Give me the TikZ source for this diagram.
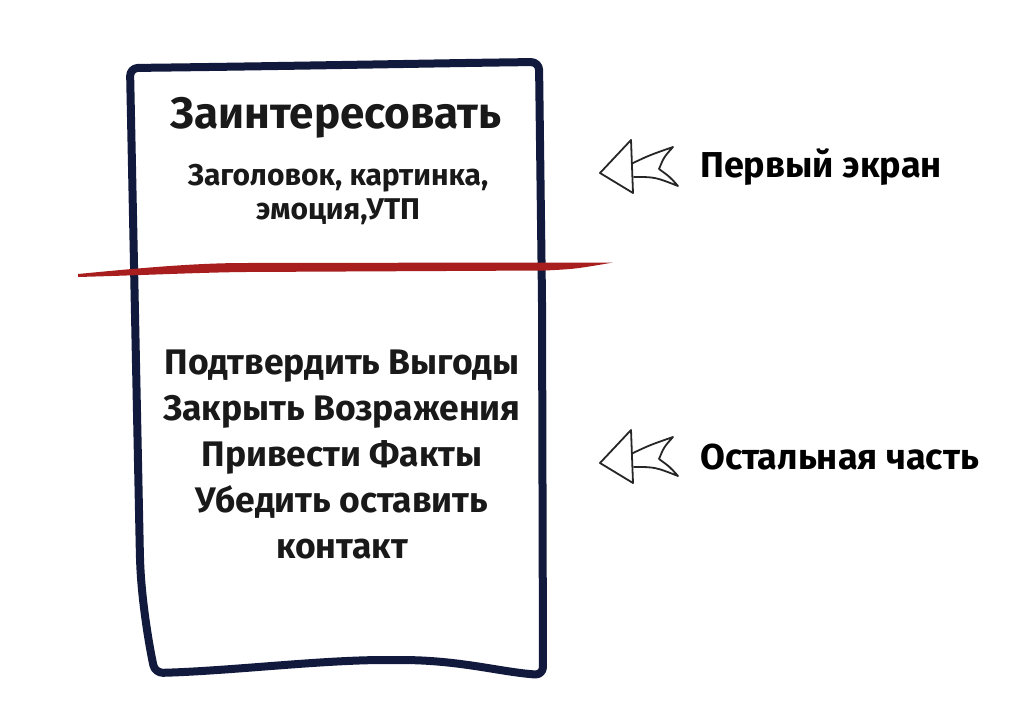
\documentclass[tikz,border=0pt]{standalone}
\usepackage{fontspec}
\setmainfont{Fira Sans}
\usetikzlibrary{positioning}

\definecolor{boxnavy}{HTML}{111A3C}
\definecolor{cutred}{HTML}{A81E1E}

\tikzset{
  boxline/.style={draw=boxnavy, line width=8pt, line join=round, line cap=round},
  arrowline/.style={draw=black!85, line width=1.8pt, line join=round, line cap=round},
  sidetext/.style={font=\fontsize{36}{42}\selectfont\bfseries, anchor=west, inner sep=0pt},
  boxtext/.style={align=center, inner sep=0pt, text=black!90},
}

\begin{document}
\begin{tikzpicture}[x=1pt,y=-1pt]
  \useasboundingbox (0,0) rectangle (1024,723);

  % Draw page box
  \draw[boxline, rounded corners=8pt] (130,68) .. controls (300,66) and (450,63) .. (539,62)
    -- (542,300) -- (543,675)
    .. controls (500,672) and (460,660) .. (393,660)
    .. controls (320,660) and (230,671) .. (155,673)
    .. controls (148,640) and (142,600) .. (140,560) -- cycle;

  % First screen cut
  \fill[cutred] (78,274) .. controls (150,267) and (200,263) .. (245,263)
    -- (545,262.5) .. controls (575,262.5) .. (613,262.5)
    .. controls (575,269) .. (545,270.5) -- (245,272)
    .. controls (200,272.5) and (150,275) .. (78,277) -- cycle;

  % Texts in the box
  \node[boxtext, font=\fontsize{44}{50}\selectfont\bfseries] (title) at (336,118) {Заинтересовать};
  \node[boxtext, font=\fontsize{30}{34}\selectfont\bfseries] (hook) at (338,195) {Заголовок, картинка,\\эмоция,УТП};
  \node[boxtext, font=\fontsize{35.5}{46}\selectfont\bfseries] (body) at (342,454) {Подтвердить Выгоды\\Закрыть Возражения\\Привести Факты\\Убедить оставить\\контакт};

  % Labels on the right
  \node[sidetext] (first) at (700,167) {Первый экран};
  \node[sidetext] (rest) at (700,457) {Остальная часть};

  % Arrows pointing at the box
  \foreach \side in {first,rest} {
    \begin{scope}[shift={(\side.west)}]
      \draw[arrowline] (-69,-27) -- (-100,6) -- (-67,26) -- cycle;
      \draw[arrowline] (-67,-4) .. controls (-50,-12) .. (-27,-20)
        .. controls (-36,-10) .. (-41,2) .. controls (-30,10) .. (-22,19)
        .. controls (-45,10) .. (-66,10);
    \end{scope}
  }
\end{tikzpicture}
\end{document}
